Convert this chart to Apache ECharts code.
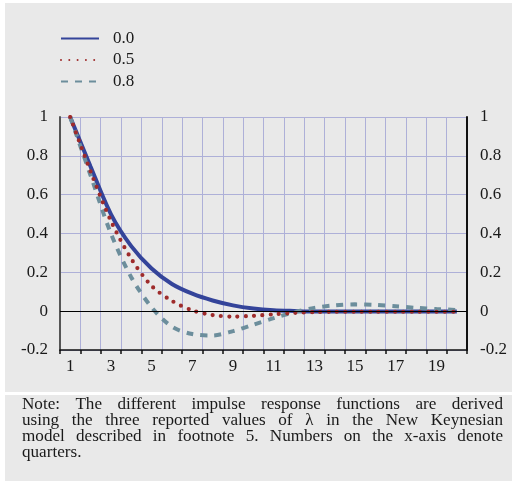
<!DOCTYPE html>
<html>
<head>
<meta charset="utf-8">
<script src="https://cdn.jsdelivr.net/npm/echarts@6/dist/echarts.min.js"></script>
<style>
html,body{margin:0;padding:0;background:#ffffff;}
#wrap{position:relative;width:512px;height:481px;overflow:hidden;}
.panel{position:absolute;background:#e9e9e9;}
#chart{position:absolute;left:0;top:0;width:512px;height:481px;}
</style>
</head>
<body>
<div id="wrap">
  <div class="panel" style="left:5px;top:3px;width:507px;height:389px;"></div>
  <div class="panel" style="left:5px;top:395px;width:507px;height:86px;"></div>
  <div id="chart"></div>
</div>
<script>
// ---- data ----
const categories = ['1','2','3','4','5','6','7','8','9','10','11','12','13','14','15','16','17','18','19','20'];
const seriesNames = ['0.0', '0.5', '0.8'];
const lambda00 = [1, 0.745, 0.50, 0.335, 0.22, 0.14, 0.09, 0.055, 0.03, 0.014, 0.005, 0.001, -0.002, -0.002, -0.002, -0.002, -0.002, -0.002, -0.002, -0.002];
const lambda05 = [1, 0.72, 0.465, 0.27, 0.13, 0.053, 0.004, -0.02, -0.028, -0.024, -0.016, -0.009, -0.005, -0.003, -0.003, -0.003, -0.003, -0.003, -0.003, -0.003];
const lambda08 = [1, 0.70, 0.40, 0.175, 0.02, -0.08, -0.118, -0.125, -0.103, -0.07, -0.036, -0.006, 0.017, 0.03, 0.035, 0.032, 0.025, 0.017, 0.011, 0.006];
const yTicks = { min: -0.2, max: 1, interval: 0.2 };
const noteLines = [
  'Note: The different impulse response functions are derived',
  'using the three reported values of \u03bb in the New Keynesian',
  'model described in footnote 5. Numbers on the x-axis denote',
  'quarters.'
];

// ---- styles ----
const FONT = '"Liberation Serif", "Times New Roman", serif';
const gridColor = '#aeb0d8';
const chart = echarts.init(document.getElementById('chart'), null, { renderer: 'canvas' });

// justified note text as graphic text elements (slightly widened glyphs like the original typeface)
function buildNote() {
  const fs = 16, sx = 1.07;
  const left = 22, right = 503, baseY = 405, lh = 15.8;
  const cv = document.createElement('canvas').getContext('2d');
  cv.font = fs + 'px ' + FONT;
  const els = [];
  noteLines.forEach((line, li) => {
    const words = line.split(' ');
    const widths = words.map(w => cv.measureText(w).width * sx);
    const total = widths.reduce((a, b) => a + b, 0);
    const last = li === noteLines.length - 1;
    const gap = last ? cv.measureText(' ').width * sx : (right - left - total) / (words.length - 1);
    let x = left;
    words.forEach((w, wi) => {
      els.push({
        type: 'text', x: x, y: baseY + li * lh, scaleX: sx, silent: true,
        style: { text: w, font: fs + 'px ' + FONT, fill: '#1a1a1a', verticalAlign: 'middle', align: 'left' }
      });
      x += widths[wi] + gap;
    });
  });
  return els;
}

const axisLabelStyle = { fontFamily: FONT, fontSize: 17, color: '#1a1a1a' };

const option = {
  backgroundColor: 'transparent',
  animation: false,
  grid: { left: 60, right: 45, top: 117, bottom: 131, containLabel: false },
  legend: {
    data: seriesNames,
    orient: 'vertical',
    left: 60, top: 30, padding: 0,
    itemWidth: 38, itemHeight: 14, itemGap: 4.5,
    itemStyle: { opacity: 0 },
    textStyle: { fontFamily: FONT, fontSize: 17, lineHeight: 14, color: '#1a1a1a', padding: [0, 0, 0, 9] }
  },
  xAxis: {
    type: 'category',
    data: categories,
    boundaryGap: true,
    position: 'bottom',
    axisLine: { onZero: false, lineStyle: { color: '#111', width: 1.5 } },
    axisTick: { show: true, interval: 0, length: 4, lineStyle: { color: '#111', width: 1.5 } },
    axisLabel: Object.assign({ interval: 1, margin: 8 }, axisLabelStyle),
    splitLine: { show: true, interval: 0, lineStyle: { color: gridColor, width: 1 } }
  },
  yAxis: [
    {
      type: 'value', position: 'left',
      min: yTicks.min, max: yTicks.max, interval: yTicks.interval,
      axisLine: { show: true, lineStyle: { color: '#555', width: 2 } },
      axisTick: { show: false },
      axisLabel: Object.assign({ margin: 12 }, axisLabelStyle),
      splitLine: { show: true, lineStyle: { color: gridColor, width: 1 } }
    },
    {
      type: 'value', position: 'right',
      min: yTicks.min, max: yTicks.max, interval: yTicks.interval,
      axisLine: { show: true, lineStyle: { color: '#111', width: 2 } },
      axisTick: { show: false },
      axisLabel: Object.assign({ margin: 13 }, axisLabelStyle),
      splitLine: { show: false }
    }
  ],
  series: [
    {
      name: '0.0', type: 'line', data: lambda00, symbol: 'none', smooth: 0.3, z: 2,
      lineStyle: { color: '#34449a', width: 4 }, itemStyle: { color: '#34449a' },
      markLine: {
        silent: true, symbol: 'none', label: { show: false },
        lineStyle: { color: '#000', width: 1.2, type: 'solid' },
        data: [{ yAxis: 0 }]
      }
    },
    {
      name: '0.5', type: 'line', data: lambda05, symbol: 'none', smooth: 0.3, z: 4,
      lineStyle: { color: '#9e2b2b', width: 4.2, type: [0, 8.3], cap: 'round' },
      itemStyle: { color: '#9e2b2b' }
    },
    {
      name: '0.8', type: 'line', data: lambda08, symbol: 'none', smooth: 0.3, z: 3,
      lineStyle: { color: '#6c8e9c', width: 4, type: [7, 7] },
      itemStyle: { color: '#6c8e9c' }
    }
  ],
  graphic: buildNote()
};
chart.setOption(option);
</script>
</body>
</html>
